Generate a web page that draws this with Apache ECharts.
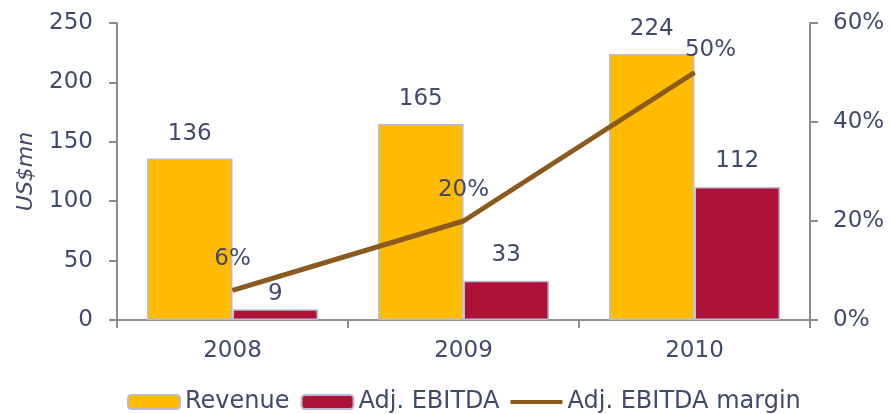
<!DOCTYPE html>
<html>
<head>
<meta charset="utf-8">
<script src="https://cdn.jsdelivr.net/npm/echarts@6/dist/echarts.min.js"></script>
<style>
  html, body { margin: 0; padding: 0; background: #fff; }
  #chart { width: 890px; height: 414px; }
</style>
</head>
<body>
<div id="chart"></div>
<script>
// data
const years = ['2008', '2009', '2010'];
const revenue = [136, 165, 224];
const ebitda = [9, 33, 112];
const margin = [6, 20, 50];
const leftTicks = [0, 50, 100, 150, 200, 250];
const rightTicks = [0, 20, 40, 60];

const textColor = '#3F4A6D';
const axisColor = '#8C8C8C';
const lineColor = '#8B5A1E';
const font = 'DejaVu Sans, Liberation Sans, sans-serif';

let chart = echarts.init(document.getElementById('chart'));

let options = {
  animation: false,
  textStyle: { fontFamily: font },
  grid: { left: 117, right: 80, top: 23, bottom: 94 },
  legend: {
    left: 127,
    top: 390,
    padding: 0,
    itemWidth: 52,
    itemHeight: 14,
    itemGap: 11,
    textStyle: { fontSize: 24, color: textColor, fontFamily: font },
    data: [
      'Revenue',
      'Adj. EBITDA',
      { name: 'Adj. EBITDA margin', icon: 'path://M0,0 L52,0 L52,4 L0,4 Z', itemStyle: { color: lineColor } }
    ]
  },
  xAxis: {
    type: 'category',
    data: years,
    axisLine: { lineStyle: { color: axisColor, width: 2 } },
    axisTick: { show: true, length: 8, lineStyle: { color: axisColor, width: 2 } },
    axisLabel: { fontSize: 23, color: textColor, margin: 20 }
  },
  yAxis: [
    {
      type: 'value',
      min: leftTicks[0],
      max: leftTicks[leftTicks.length - 1],
      interval: 50,
      name: 'US$mn',
      nameLocation: 'middle',
      nameGap: 80,
      nameTextStyle: { fontSize: 22, fontStyle: 'italic', color: textColor },
      axisLine: { show: true, lineStyle: { color: axisColor, width: 2 } },
      axisTick: { show: true, length: 8, lineStyle: { color: axisColor, width: 2 } },
      axisLabel: { fontSize: 23, color: textColor, margin: 24 },
      splitLine: { show: false }
    },
    {
      type: 'value',
      min: rightTicks[0],
      max: rightTicks[rightTicks.length - 1],
      interval: 20,
      axisLine: { show: true, lineStyle: { color: axisColor, width: 2 } },
      axisTick: { show: true, length: 8, lineStyle: { color: axisColor, width: 2 } },
      axisLabel: { fontSize: 23, color: textColor, margin: 23, formatter: '{value}%' },
      splitLine: { show: false }
    }
  ],
  series: [
    {
      name: 'Revenue',
      type: 'bar',
      data: revenue,
      barGap: '0%',
      barCategoryGap: '26%',
      itemStyle: { color: '#FFBB00', borderColor: '#B8BCD4', borderWidth: 1.5 },
      label: { show: true, position: 'top', distance: 13, fontSize: 23, color: textColor }
    },
    {
      name: 'Adj. EBITDA',
      type: 'bar',
      data: ebitda.map((v, i) => i === 0
        ? { value: v, label: { distance: 4 } }
        : v),
      itemStyle: { color: '#B01237', borderColor: '#B8BCD4', borderWidth: 1.5 },
      label: { show: true, position: 'top', distance: 14, fontSize: 23, color: textColor }
    },
    {
      name: 'Adj. EBITDA margin',
      type: 'line',
      yAxisIndex: 1,
      data: margin.map((v, i) => i === 2
        ? { value: v, label: { distance: 10, offset: [16, 0] } }
        : v),
      symbol: 'circle',
      symbolSize: 1,
      showSymbol: true,
      lineStyle: { color: lineColor, width: 5 },
      itemStyle: { color: lineColor },
      label: {
        show: true,
        position: 'top',
        distance: 19,
        fontSize: 23,
        color: textColor,
        formatter: '{c}%'
      },
      z: 5
    }
  ]
};

chart.setOption(options);
</script>
</body>
</html>
